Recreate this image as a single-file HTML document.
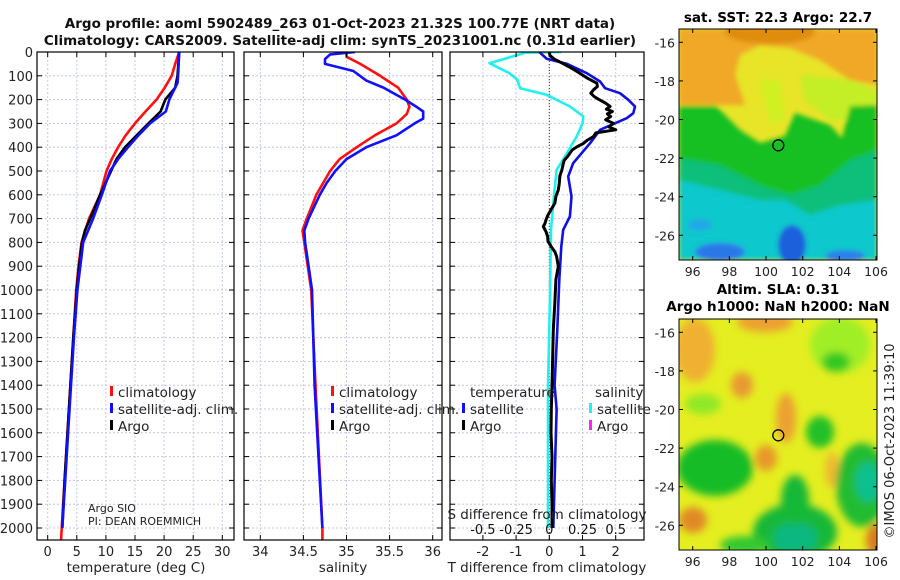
<!DOCTYPE html>
<html><head><meta charset="utf-8"><style>
body{margin:0;background:#fff;}
svg{display:block;font-family:"DejaVu Sans","Liberation Sans",sans-serif;}
</style></head><body>
<svg id="fig" width="900" height="580" viewBox="0 0 900 580" xmlns="http://www.w3.org/2000/svg">
<defs>
<filter id="blur3" x="-10%" y="-10%" width="120%" height="120%"><feGaussianBlur stdDeviation="2.5"/></filter>
<filter id="blur6" x="-10%" y="-10%" width="120%" height="120%"><feGaussianBlur stdDeviation="4"/></filter>
<clipPath id="clipM1"><rect x="679" y="29" width="198" height="231"/></clipPath>
<clipPath id="clipM2"><rect x="679" y="319" width="198" height="231"/></clipPath>
<clipPath id="clipP1"><rect x="37" y="52" width="197" height="488"/></clipPath>
<clipPath id="clipP2"><rect x="244" y="52" width="198" height="488"/></clipPath>
<clipPath id="clipP3"><rect x="450" y="52" width="194" height="488"/></clipPath>
</defs>
<g id="titles" font-weight="bold" font-size="13.5" text-anchor="middle" fill="#111">
<text x="340" y="28">Argo profile: aoml 5902489_263 01-Oct-2023 21.32S 100.77E (NRT data)</text>
<text x="340" y="45">Climatology: CARS2009. Satellite-adj clim: synTS_20231001.nc (0.31d earlier)</text>
</g>
<g id="grids"></g>
<g id="series"></g>
<g id="frames"></g>
<g id="labels"></g>

<!-- SST map -->
<g clip-path="url(#clipM1)">
<rect x="679" y="29" width="198" height="231" fill="#e8e428"/>
<g filter="url(#blur3)">
<polygon points="679,29 877,29 877,85 850,80 820,60 790,48 760,45 740,55 735,75 745,105 679,105" fill="#f0a828"/>
<ellipse cx="770" cy="32" rx="45" ry="12" fill="#e08c10"/>
<polygon points="800,75 850,80 877,90 877,120 830,120 805,100" fill="#c4ee28"/>
<polygon points="760,80 780,80 785,120 770,125" fill="#d0f020"/>
<polygon points="679,106 716,106 740,130 760,143 785,136 795,113 830,125 842,138 850,106 877,105 877,260 679,260" fill="#18c020"/>
<polygon points="679,158 720,165 760,185 790,195 820,185 850,160 877,150 877,260 679,260" fill="#10bf7a"/>
<polygon points="679,180 720,190 760,200 785,200 810,215 840,205 877,200 877,260 679,260" fill="#10c8cc"/>
<ellipse cx="720" cy="252" rx="25" ry="9" fill="#2a78e8"/>
<ellipse cx="792" cy="245" rx="14" ry="20" fill="#1f60dc"/>
<ellipse cx="845" cy="256" rx="20" ry="6" fill="#2a80e8"/>
<ellipse cx="700" cy="225" rx="12" ry="6" fill="#20a8e8"/>
</g>
</g>
<rect x="679" y="29" width="198" height="231" fill="none" stroke="#000"/>
<ellipse cx="778.3" cy="145.3" rx="5.5" ry="5.5" fill="none" stroke="#000" stroke-width="1.3"/>
<text x="778" y="22" font-size="13.5" font-weight="bold" text-anchor="middle">sat. SST: 22.3 Argo: 22.7</text>

<!-- SLA map -->
<g clip-path="url(#clipM2)">
<rect x="679" y="319" width="198" height="231" fill="#e4ee20"/>
<g filter="url(#blur6)">
<ellipse cx="695" cy="350" rx="20" ry="32" fill="#f0b030"/>
<ellipse cx="765" cy="322" rx="28" ry="10" fill="#eca030"/>
<ellipse cx="742" cy="385" rx="11" ry="13" fill="#e89a30"/>
<ellipse cx="786" cy="418" rx="10" ry="25" fill="#eca030"/>
<ellipse cx="766" cy="458" rx="11" ry="13" fill="#e8982a"/>
<ellipse cx="693" cy="520" rx="14" ry="13" fill="#e08a28"/>
<ellipse cx="876" cy="540" rx="10" ry="16" fill="#d87a20"/>
<ellipse cx="832" cy="470" rx="7" ry="18" fill="#f0b830"/>
<ellipse cx="840" cy="345" rx="30" ry="28" fill="#a0ee28"/>
<ellipse cx="836" cy="362" rx="14" ry="10" fill="#30c820"/>
<ellipse cx="820" cy="432" rx="14" ry="16" fill="#20c028"/>
<ellipse cx="703" cy="404" rx="18" ry="10" fill="#90e828"/>
<ellipse cx="715" cy="468" rx="38" ry="28" fill="#18bc28"/>
<ellipse cx="862" cy="485" rx="26" ry="42" fill="#20bc30"/>
<ellipse cx="868" cy="482" rx="13" ry="20" fill="#10c090"/>
<ellipse cx="795" cy="532" rx="42" ry="28" fill="#18b838"/>
<ellipse cx="795" cy="538" rx="22" ry="16" fill="#10b880"/>
<ellipse cx="795" cy="500" rx="14" ry="25" fill="#18b838"/>
<ellipse cx="745" cy="545" rx="25" ry="9" fill="#30c830"/>
</g>
</g>
<rect x="679" y="319" width="198" height="231" fill="none" stroke="#000"/>
<ellipse cx="778.3" cy="435.3" rx="5.5" ry="5.5" fill="none" stroke="#000" stroke-width="1.3"/>
<text x="778" y="294" font-size="13.5" font-weight="bold" text-anchor="middle">Altim. SLA: 0.31</text>
<text x="778" y="311" font-size="13.5" font-weight="bold" text-anchor="middle">Argo h1000: NaN h2000: NaN</text>
<text transform="translate(894,441) rotate(-90)" font-size="13" text-anchor="middle" fill="#222">©IMOS 06-Oct-2023 11:39:10</text>
<g id="maplabels"></g>
</svg>
<script>
// ---- chart data ----
const depthTicks = [0,100,200,300,400,500,600,700,800,900,1000,1100,1200,1300,1400,1500,1600,1700,1800,1900,2000];
const tempTicks = [0,5,10,15,20,25,30];
const salTicks = [34,34.5,35,35.5,36];
const salTickLabels = ["34","34.5","35","35.5","36"];
const tdiffTicks = [-2,-1,0,1,2];
const sdiffTicks = [-0.5,-0.25,0,0.25,0.5];

const tempClimDepth = [0,50,100,150,200,250,300,350,400,450,500,600,700,800,900,1000,1200,1400,1600,1800,2000,2050];
const tempClim = [22.6,21.9,21.3,20.1,18.7,16.8,15.0,13.4,12.1,11.0,10.1,9.0,7.1,5.8,5.3,4.9,4.4,3.9,3.4,2.9,2.4,2.3];
const tempArgoDepth = [0,100,150,200,250,300,350,400,450,500,600,700,750,800,900,1000,1200,1400,1600,1800,2000];
const tempArgo = [22.6,22.3,21.9,20.2,19.4,17.3,15.3,13.3,11.8,10.9,9.0,7.3,6.4,5.9,5.4,5.0,4.4,3.9,3.4,2.9,2.5];
const tempSatDepth = [0,100,130,200,250,300,350,400,450,500,600,700,800,900,1000,1200,1400,1600,1800,2000];
const tempSat = [22.6,22.4,22.3,20.9,20.3,17.6,15.6,13.8,12.1,10.7,9.3,7.8,6.1,5.6,5.1,4.5,4.0,3.5,3.0,2.5];

const salClimDepth = [0,20,50,100,150,200,230,260,300,350,400,450,500,600,700,750,800,1000,1400,2000,2050];
const salClim = [35.0,35.0,35.16,35.39,35.60,35.70,35.73,35.70,35.58,35.33,35.12,34.92,34.81,34.65,34.54,34.49,34.51,34.59,34.64,34.72,34.72];
const salSatDepth = [0,10,30,50,80,120,150,200,230,250,280,300,350,400,450,500,550,600,700,750,800,900,1000,1400,2000];
const salSat = [35.1,34.81,34.75,34.75,35.08,35.23,35.43,35.68,35.81,35.89,35.89,35.79,35.58,35.23,35.0,34.87,34.77,34.69,34.56,34.51,34.52,34.56,34.60,34.63,34.72];

const tdArgoDepth = [0,15,30,49,70,89,110,131,145,159,173,187,200,215,229,240,250,260,271,285,300,315,327,340,355,370,385,397,410,425,439,455,470,495,520,551,580,607,635,663,685,705,720,733,755,775,795,817,840,859,900,957,1050,1167,1300,1400,1500,1600,1700,1800,1900,2000];
const tdArgo = [0,0.02,0.15,0.42,0.7,0.92,1.15,1.43,1.45,1.33,1.25,1.35,1.5,1.7,1.83,1.72,1.9,1.75,1.85,1.7,1.93,1.8,2.0,1.4,1.33,1.15,1.02,0.85,0.7,0.62,0.55,0.45,0.42,0.38,0.32,0.3,0.27,0.2,0.17,0.05,-0.04,-0.1,-0.13,-0.18,-0.1,-0.05,-0.04,0.05,0.17,0.22,0.27,0.2,0.17,0.12,0.1,0.08,0.06,0.05,0.08,0.06,0.08,0.08];
const tdSatDepth = [0,28,49,89,124,152,173,201,229,257,278,327,383,467,523,607,691,747,817,957,1167,1400,1500,2000];
const tdSat = [-0.3,-0.08,0.52,1.13,1.53,1.68,2.13,2.38,2.58,2.53,2.33,1.53,1.23,0.72,0.57,0.67,0.62,0.42,0.36,0.3,0.24,0.16,0.22,0.12];
const sdSatDepth = [0,3,47,89,117,152,180,229,271,299,355,383,439,495,607,747,1027,1400,2000];
const sdSat = [0.093,-0.18,-0.45,-0.30,-0.24,-0.22,-0.02,0.156,0.256,0.25,0.206,0.176,0.118,0.056,0.035,0.013,0.005,-0.01,-0.01];

const lonTicks = [96,98,100,102,104,106];
const latTicks = [-16,-18,-20,-22,-24,-26];

// ---- axes ----
const NS = "http://www.w3.org/2000/svg";
const yD = d => 52 + d * 0.238;
const xT = t => 47.7 + t * 5.82;
const xS = s => 260.3 + (s - 34) * 86.2;
const xTD = v => 549.3 + v * 33.2;
const xSD = v => 549.3 + v * 132.8;
const panels = [{x0:37,x1:234},{x0:244,x1:442},{x0:450,x1:644}];
const Y0 = 52, Y1 = 540;

function mk(tag, attrs, parent){
  const e = document.createElementNS(NS, tag);
  for (const k in attrs) e.setAttribute(k, attrs[k]);
  parent.appendChild(e);
  return e;
}
const grids = document.getElementById('grids');
const frames = document.getElementById('frames');
const labels = document.getElementById('labels');
const series = document.getElementById('series');

panels.forEach((p, i) => {
  depthTicks.forEach(d => {
    const y = yD(d);
    const g = mk('line', {x1:p.x0, x2:p.x1, y1:y, y2:y, stroke:'#c4c8e6', 'stroke-width':1, 'stroke-dasharray':'2,2'}, grids);
    
    
    mk('line', {x1:p.x0, x2:p.x0+5, y1:y, y2:y, stroke:'#000'}, frames);
    mk('line', {x1:p.x1-5, x2:p.x1, y1:y, y2:y, stroke:'#000'}, frames);
  });
  const r = mk('rect', {x:p.x0, y:Y0, width:p.x1-p.x0, height:Y1-Y0, fill:'none', stroke:'#000', 'stroke-width':1.2}, frames);
  
  
});
depthTicks.forEach(d => {
  const t = mk('text', {x:33, y:yD(d)+5, 'font-size':13, 'text-anchor':'end', fill:'#222'}, labels);
  t.textContent = d;
  
  
});
function xTicks(ticks, fx, texts, p, name){
  ticks.forEach((v, i) => {
    const x = fx(v);
    const g = mk('line', {x1:x, x2:x, y1:Y0, y2:Y1, stroke:'#c4c8e6', 'stroke-dasharray':'2,2'}, grids);
    
    
    mk('line', {x1:x, x2:x, y1:Y1-5, y2:Y1, stroke:'#000'}, frames);
    mk('line', {x1:x, x2:x, y1:Y0, y2:Y0+5, stroke:'#000'}, frames);
    const t = mk('text', {x:x, y:556, 'font-size':13, 'text-anchor':'middle', fill:'#222'}, labels);
    t.textContent = texts ? texts[i] : v;
    
    
  });
}
xTicks(tempTicks, xT, null, panels[0], 'temperature');
xTicks(salTicks, xS, salTickLabels, panels[1], 'salinity');
xTicks(tdiffTicks, xTD, null, panels[2], 'tdiff');
sdiffTicks.forEach(v => {
  const t = mk('text', {x:xSD(v), y:534, 'font-size':13, 'text-anchor':'middle', fill:'#111'}, labels);
  t.textContent = String(v);
  
  
});
const zl = mk('line', {x1:xTD(0), x2:xTD(0), y1:Y0, y2:Y1, stroke:'#334', 'stroke-width':1, 'stroke-dasharray':'1,2'}, grids);



function addLabel(x, y, txt, name, size, anchor){
  const t = mk('text', {x:x, y:y, 'font-size':size||13, 'text-anchor':anchor||'middle', fill:'#222'}, labels);
  t.textContent = txt;
  
  
}
addLabel(136, 572, 'temperature (deg C)', 'x-axis-title-temperature', 13.5);
addLabel(343, 572, 'salinity', 'x-axis-title-salinity', 13.5);
addLabel(547, 572, 'T difference from climatology', 'x-axis-title-tdiff', 13.5);
addLabel(547, 519, 'S difference from climatology', 'x-axis-title-sdiff', 13.5);
addLabel(88, 512, 'Argo SIO', 'operator-label', 11, 'start');
addLabel(88, 525, 'PI: DEAN ROEMMICH', 'pi-label', 11, 'start');

function line(depths, vals, fx, color, width, clip, name){
  const pts = depths.map((d, i) => fx(vals[i]).toFixed(1) + ',' + yD(d).toFixed(1)).join(' ');
  const pl = mk('polyline', {points:pts, fill:'none', stroke:color, 'stroke-width':width, 'stroke-linejoin':'round', 'clip-path':'url(#' + clip + ')'}, series);
  
  
}
line(tempClimDepth, tempClim, xT, '#ff1010', 2.6, 'clipP1', 'temperature-climatology-line');
line(tempArgoDepth, tempArgo, xT, '#000', 2.6, 'clipP1', 'temperature-argo-line');
line(tempSatDepth, tempSat, xT, '#1010ff', 2.6, 'clipP1', 'temperature-satellite-line');
line(salClimDepth, salClim, xS, '#ff1010', 2.6, 'clipP2', 'salinity-climatology-line');
line(salSatDepth, salSat, xS, '#1010ff', 2.6, 'clipP2', 'salinity-satellite-line');
line(sdSatDepth, sdSat, xSD, '#20f0f0', 2.6, 'clipP3', 'sdiff-satellite-line');
line(tdSatDepth, tdSat, xTD, '#1010e0', 2.6, 'clipP3', 'tdiff-satellite-line');
line(tdArgoDepth, tdArgo, xTD, '#000', 3, 'clipP3', 'tdiff-argo-line');

function legend(x, y, color, txt, name){
  const r = mk('rect', {x:x, y:y-10, width:3, height:10, fill:color}, labels);
  
  
  addLabel(x+8, y+1, txt, name, 13.5, 'start');
}
legend(110, 396, '#ff1010', 'climatology', 'legend-temp-climatology');
legend(110, 413, '#1010ff', 'satellite-adj. clim.', 'legend-temp-satellite');
legend(110, 430, '#000', 'Argo', 'legend-temp-argo');
legend(331, 396, '#ff1010', 'climatology', 'legend-sal-climatology');
legend(331, 413, '#1010ff', 'satellite-adj. clim.', 'legend-sal-satellite');
legend(331, 430, '#000', 'Argo', 'legend-sal-argo');
addLabel(470, 397, 'temperature', 'legend-tdiff-heading', 13.5, 'start');
legend(462, 413, '#1010ff', 'satellite', 'legend-tdiff-satellite');
legend(462, 430, '#000', 'Argo', 'legend-tdiff-argo');
addLabel(595, 397, 'salinity', 'legend-sdiff-heading', 13.5, 'start');
legend(589, 413, '#20f0f0', 'satellite', 'legend-sdiff-satellite');
legend(589, 430, '#ff20ff', 'Argo', 'legend-sdiff-argo');

const ml = document.getElementById('maplabels');
const xLon = lon => 692.7 + (lon - 96) * 18.33;
const yLat = (lat, top) => top + (-16 - lat) * 19.3;
[[42.3, 29, 260, 'sst'], [332.3, 319, 550, 'sla']].forEach(m => {
  lonTicks.forEach(lon => {
    const x = xLon(lon);
    mk('line', {x1:x, x2:x, y1:m[2]-4, y2:m[2], stroke:'#000'}, ml);
    mk('line', {x1:x, x2:x, y1:m[1], y2:m[1]+4, stroke:'#000'}, ml);
    const t = mk('text', {x:x, y:m[2]+16, 'font-size':12.5, 'text-anchor':'middle', fill:'#222'}, ml);
    t.textContent = lon;
    
    
  });
  latTicks.forEach(lat => {
    const y = yLat(lat, m[0]);
    mk('line', {x1:679, x2:683, y1:y, y2:y, stroke:'#000'}, ml);
    mk('line', {x1:873, x2:877, y1:y, y2:y, stroke:'#000'}, ml);
    const t = mk('text', {x:675, y:y+5, 'font-size':12.5, 'text-anchor':'end', fill:'#222'}, ml);
    t.textContent = lat;
    
    
  });
});
</script>
</body></html>
